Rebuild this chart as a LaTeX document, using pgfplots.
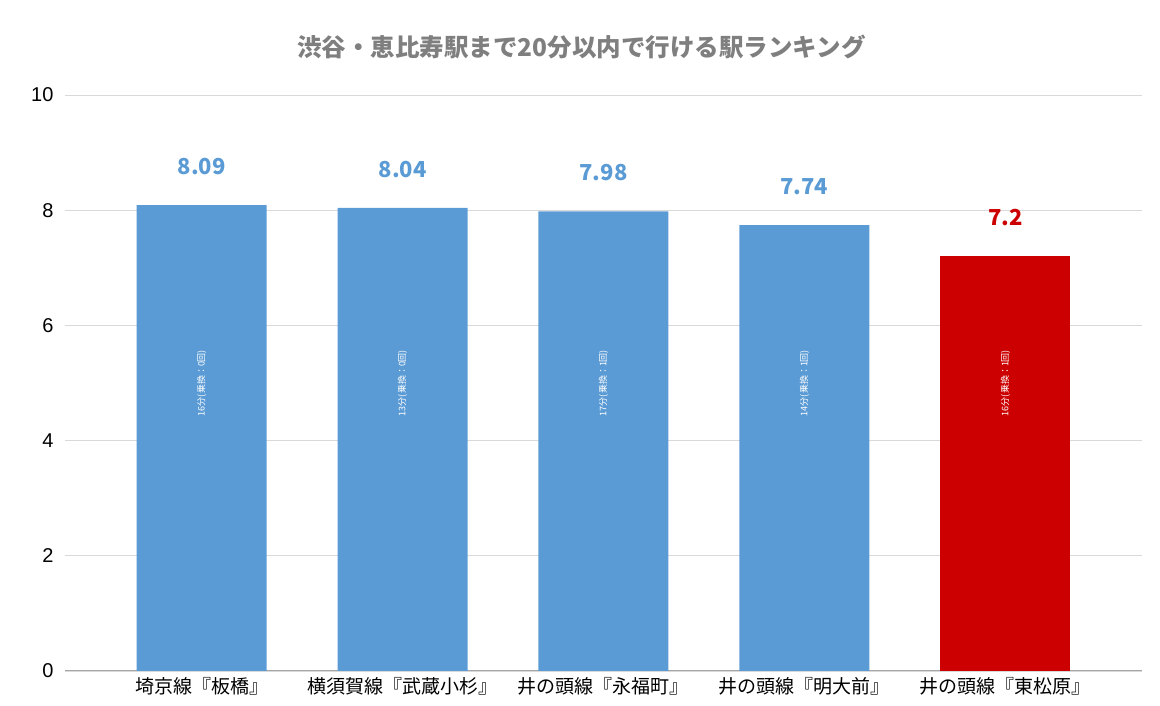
\documentclass[border=0pt]{standalone}
\usepackage{fontspec}
\setmainfont{Noto Sans CJK JP}
\newfontfamily\numfont{Liberation Sans}
\usepackage{pgfplots}
\pgfplotsset{compat=1.18}
\definecolor{barblue}{HTML}{5B9BD5}
\definecolor{barred}{HTML}{CC0000}
\definecolor{titlegray}{HTML}{7F7F7F}
\definecolor{gridgray}{HTML}{D9D9D9}
\definecolor{axisgray}{HTML}{A6A6A6}
\begin{document}
\begin{tikzpicture}[x=1pt,y=1pt]
\useasboundingbox (-65,-35) rectangle (1095,671);
\begin{axis}[
  at={(0,0)}, anchor=south west,
  scale only axis, width=1077pt, height=576pt,
  xmin=-0.68, xmax=4.68, ymin=0, ymax=10,
  ytick={0,2,4,6,8,10},
  yticklabels={0,2,4,6,8,10},
  xtick={0,1,2,3,4},
  xticklabels={埼京線『板橋』,横須賀線『武蔵小杉』,井の頭線『永福町』,井の頭線『明大前』,井の頭線『東松原』},
  ymajorgrids, grid style={gridgray, line width=0.8pt},
  axis x line*=bottom, axis y line*=left,
  x axis line style={axisgray, line width=1pt, -},
  y axis line style={draw=none},
  major tick length=0pt,
  /pgf/number format/assume math mode=true,
  xticklabel style={font=\fontsize{19}{21}\selectfont, black, yshift=-3pt},
  yticklabel style={font=\numfont\fontsize{20}{22}\selectfont, black, xshift=-8pt},
  ybar, bar width=130pt,
  nodes near coords,
  nodes near coords style={font=\fontsize{22}{24}\selectfont\bfseries, anchor=south, yshift=27pt},
  title={渋谷・恵比寿駅まで20分以内で行ける駅ランキング},
  title style={font=\fontsize{24.5}{28}\selectfont\bfseries, text=titlegray, yshift=26pt, xshift=-22pt},
  clip=false,
]
\addplot[fill=barblue, draw=none, bar shift=0pt, nodes near coords style={text=barblue}] coordinates {(0,8.09) (1,8.04) (2,7.98) (3,7.74)};
\addplot[fill=barred, draw=none, bar shift=0pt, nodes near coords style={text=barred}] coordinates {(4,7.2)};
\foreach \i/\t in {0/16分(乗換：0回),1/13分(乗換：0回),2/17分(乗換：1回),3/14分(乗換：1回),4/16分(乗換：1回)}{
  \edef\tmp{\noexpand\node[rotate=90, font=\noexpand\fontsize{9}{10}\noexpand\selectfont, text=white] at (axis cs:\i,5.0) {\t};}
  \tmp
}
\end{axis}
\end{tikzpicture}
\end{document}
